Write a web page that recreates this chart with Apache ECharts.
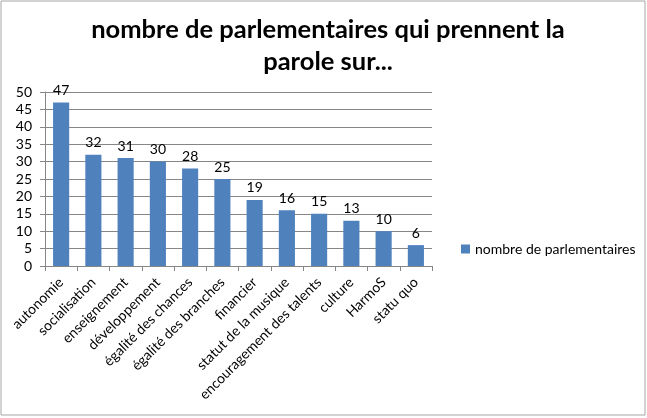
<!DOCTYPE html>
<html>
<head>
<meta charset="utf-8">
<script src="https://cdn.jsdelivr.net/npm/echarts@6/dist/echarts.min.js"></script>
<style>
  html, body { margin: 0; padding: 0; background: #fff; }
  #chart-container { width: 647px; height: 418px; }
</style>
</head>
<body>
<div id="chart-container"></div>
<script>
var categories = ['autonomie', 'socialisation', 'enseignement', 'développement', 'égalité des chances',
  'égalité des branches', 'financier', 'statut de la musique', 'encouragement des talents',
  'culture', 'HarmoS', 'statu quo'];
var parlementaires = [47, 32, 31, 30, 28, 25, 19, 16, 15, 13, 10, 6];
var seriesName = 'nombre de parlementaires';

var dom = document.getElementById('chart-container');
var myChart = echarts.init(dom, null, { renderer: 'canvas' });
var font = 'Lato, "Open Sans", sans-serif';

var option = {
  animation: false,
  textStyle: { fontFamily: font },
  title: {
    text: 'nombre de parlementaires qui prennent la\nparole sur...',
    left: 323,
    textAlign: 'center',
    top: 9,
    textStyle: { fontSize: 25.5, fontWeight: 'bold', color: '#000', lineHeight: 32, fontFamily: font }
  },
  graphic: [{
    type: 'rect',
    shape: { x: 1, y: 1, width: 644, height: 414 },
    style: { fill: 'none', stroke: '#a6a6a6', lineWidth: 1 }
  }],
  legend: {
    data: [seriesName],
    left: 456,
    top: 237,
    itemWidth: 9,
    itemHeight: 9,
    icon: 'rect',
    itemGap: 4,
    textStyle: { fontSize: 14, color: '#000', fontFamily: font }
  },
  grid: { left: 45, right: 215, top: 92, bottom: 152 },
  xAxis: {
    type: 'category',
    data: categories,
    axisLine: { lineStyle: { color: '#868686' } },
    axisTick: { show: true, alignWithLabel: false, lineStyle: { color: '#868686' } },
    axisLabel: { rotate: 45, interval: 0, fontSize: 14, color: '#000', margin: 14, fontFamily: font }
  },
  yAxis: {
    type: 'value',
    min: 0,
    max: 50,
    interval: 5,
    axisLine: { show: true, lineStyle: { color: '#868686' } },
    axisTick: { show: true, lineStyle: { color: '#868686' } },
    splitLine: { lineStyle: { color: '#868686' } },
    axisLabel: { fontSize: 14, color: '#000', margin: 13, fontFamily: font }
  },
  series: [{
    name: seriesName,
    type: 'bar',
    data: parlementaires,
    barWidth: '50%',
    itemStyle: { color: '#4f81bd' },
    label: { show: true, position: 'top', fontSize: 14, color: '#000', distance: 5, fontFamily: font }
  }]
};

myChart.setOption(option);
window.addEventListener('resize', myChart.resize);
</script>
</body>
</html>
